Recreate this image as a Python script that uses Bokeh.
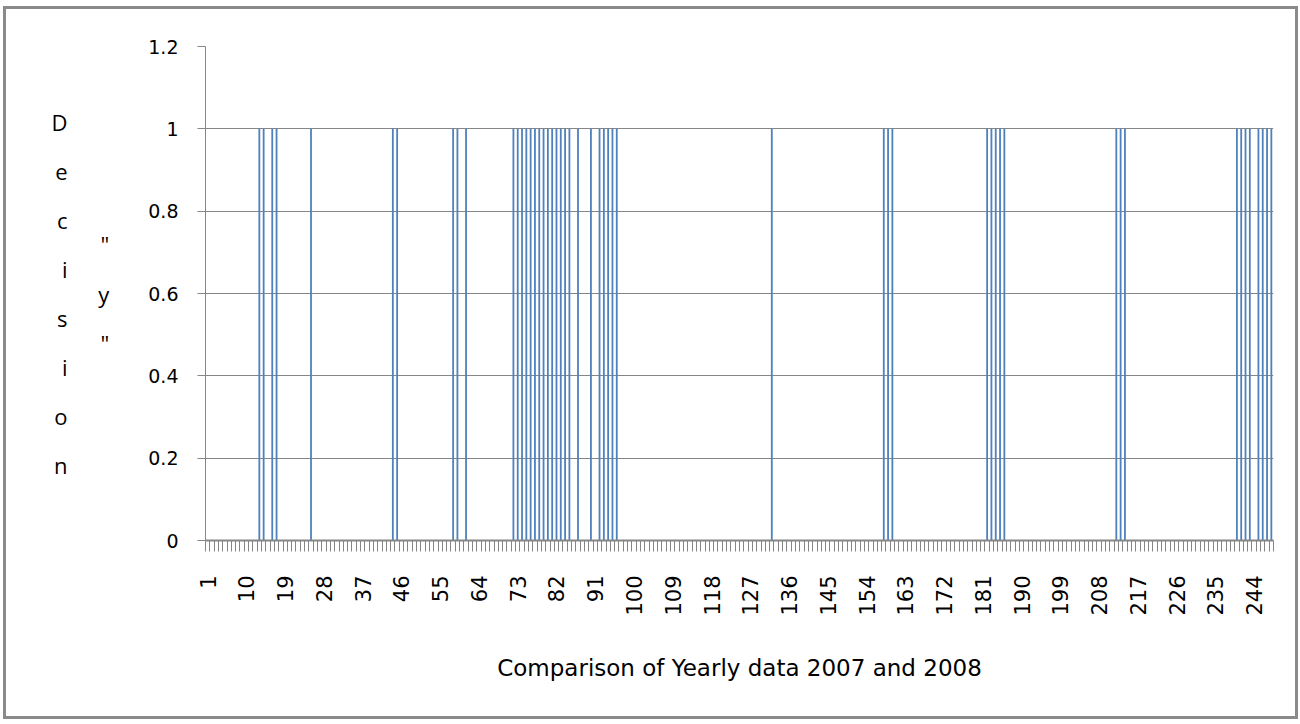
from bokeh.plotting import figure
from bokeh.models import FixedTicker, Range1d, ColumnDataSource, LinearAxis
from bokeh.embed import file_html
from bokeh.resources import INLINE

# ---------------- data ----------------
categories = list(range(1, 249))          # 248 yearly comparisons
ones_at = [13, 14, 16, 17, 25, 44, 45, 58, 59, 61,
           72, 73, 74, 75, 76, 77, 78, 79, 80, 81, 82, 83, 84, 85, 87,
           90, 92, 93, 94, 95, 96, 132, 158, 159, 160,
           182, 183, 184, 185, 186, 212, 213, 214,
           240, 241, 242, 243, 245, 246, 247, 248]
values = [1 if c in ones_at else 0 for c in categories]
x_tick_labels = [1, 10, 19, 28, 37, 46, 55, 64, 73, 82, 91, 100, 109, 118, 127,
                 136, 145, 154, 163, 172, 181, 190, 199, 208, 217, 226, 235, 244]
y_ticks = [0, 0.2, 0.4, 0.6, 0.8, 1, 1.2]
y_tick_text = ["0", "0.2", "0.4", "0.6", "0.8", "1", "1.2"]
x_title = "Comparison of Yearly data 2007 and 2008"
y_title_col1 = ["D", "e", "c", "i", "s", "i", "o", "n"]
y_title_col2 = ['"', "y", '"']

# ---------------- layout ----------------
OX, OY = 6, 9                      # canvas origin on the page
W, H = 1289, 707                   # canvas size
FRAME_L, FRAME_R, FRAME_T, FRAME_B = 205, 1273, 46, 540
n = len(categories)
fw = FRAME_R - FRAME_L
fh = FRAME_B - FRAME_T

src = ColumnDataSource(dict(x=categories, top=values))

p = figure(frame_width=fw, frame_height=fh,
           x_range=Range1d(0.5, n + 0.5), y_range=Range1d(0, 1.2),
           output_backend="svg", toolbar_location=None,
           min_border_left=FRAME_L - OX, min_border_top=FRAME_T - OY,
           min_border_right=W - (FRAME_L - OX) - fw,
           min_border_bottom=H - (FRAME_T - OY) - fh)
p.styles = {"border": "3px solid #8a8a8a", "margin-left": "3px", "margin-top": "6px"}
p.outline_line_color = None
p.background_fill_color = "white"
p.border_fill_color = "white"

p.vbar(x="x", top="top", bottom=0, width=0.42, source=src,
       fill_color="#4F81BD", line_color=None)

# x axis
xa = p.xaxis[0]
xa.ticker = FixedTicker(ticks=x_tick_labels,
                        minor_ticks=[c - 0.5 for c in categories] + [n + 0.5])
xa.major_label_orientation = 1.5707963
xa.major_tick_out = 0
xa.major_tick_in = 0
xa.minor_tick_out = 11
xa.minor_tick_in = 0
xa.minor_tick_line_color = "#868686"
xa.axis_line_color = "#868686"
xa.axis_line_width = 2
xa.major_label_text_font = "DejaVu Sans"
xa.major_label_text_font_size = "21px"
xa.major_label_text_color = "black"
xa.major_label_standoff = 24
xa.axis_label = x_title
xa.axis_label_text_font = "DejaVu Sans"
xa.axis_label_text_font_size = "23px"
xa.axis_label_text_font_style = "normal"
xa.axis_label_text_color = "black"
xa.axis_label_standoff = 36

# y axis (carries the inner column of the stacked title)
ya = p.yaxis[0]
ya.ticker = FixedTicker(ticks=y_ticks)
ya.major_label_overrides = {t: s for t, s in zip(y_ticks, y_tick_text)}
ya.major_tick_out = 8
ya.major_tick_in = 0
ya.minor_tick_out = 0
ya.minor_tick_in = 0
ya.major_tick_line_color = "#868686"
ya.axis_line_color = "#868686"
ya.major_label_text_font = "DejaVu Sans"
ya.major_label_text_font_size = "19px"
ya.major_label_text_color = "black"
ya.major_label_standoff = 19
ya.axis_label = "\n".join(y_title_col2)
ya.axis_label_orientation = "horizontal"
ya.axis_label_text_font = "Open Sans"
ya.axis_label_text_font_size = "22px"
ya.axis_label_text_font_style = "normal"
ya.axis_label_text_color = "black"
ya.axis_label_text_line_height = 1.65
ya.axis_label_standoff = 36

# outer column of the stacked title
ya2 = LinearAxis(ticker=FixedTicker(ticks=[]), axis_line_color=None,
                 major_tick_line_color=None, minor_tick_line_color=None,
                 major_label_text_font_size="0px")
ya2.axis_label = "\n".join(y_title_col1)
ya2.axis_label_orientation = "horizontal"
ya2.axis_label_text_font = "Open Sans"
ya2.axis_label_text_font_size = "22px"
ya2.axis_label_text_font_style = "normal"
ya2.axis_label_text_color = "black"
ya2.axis_label_text_line_height = 1.63
ya2.axis_label_standoff = 28
p.add_layout(ya2, "left")

p.xgrid.grid_line_color = None
p.ygrid.grid_line_color = "#868686"
p.ygrid.grid_line_width = 1
p.ygrid.ticker = FixedTicker(ticks=y_ticks)

open("out.html", "w").write(file_html(p, INLINE))
